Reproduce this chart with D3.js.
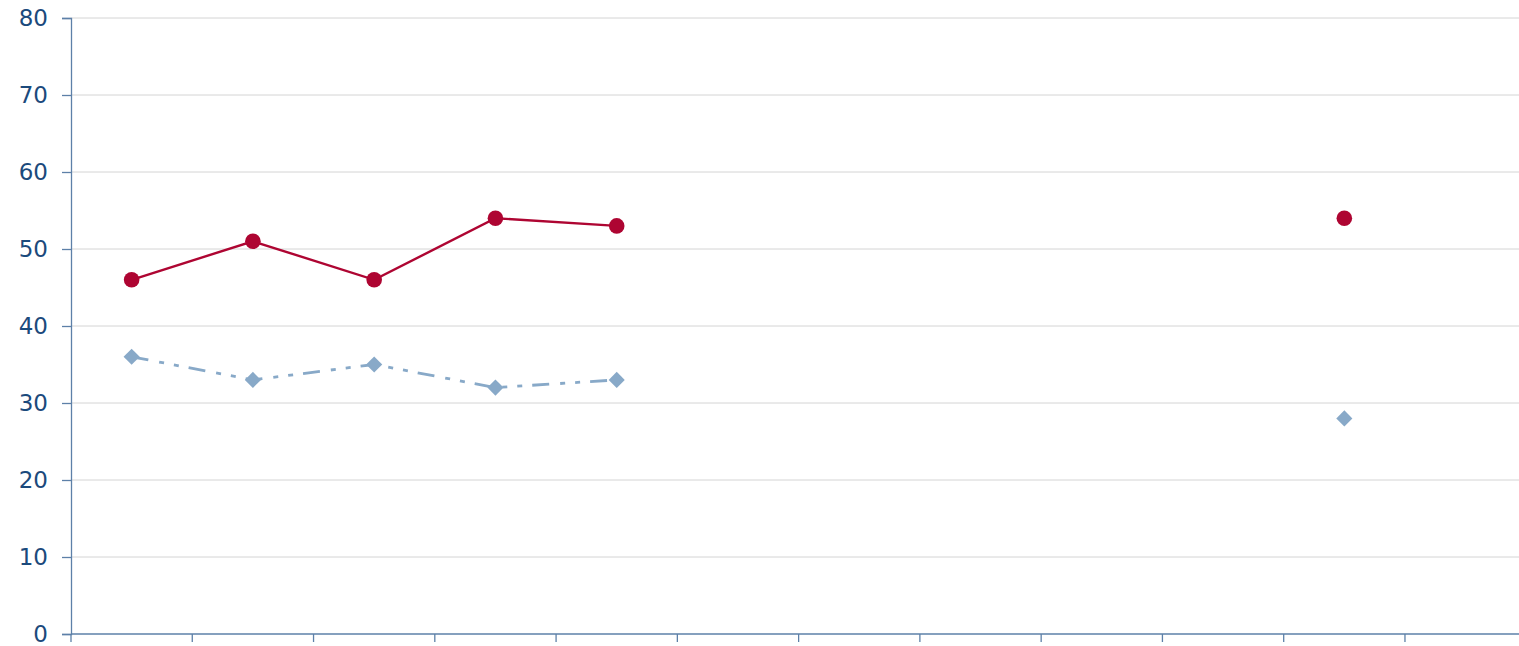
<!DOCTYPE html>
<html>
<head>
<meta charset="utf-8">
<script src="https://cdn.jsdelivr.net/npm/d3@7"></script>
<style>
  html, body { margin: 0; padding: 0; background: #fff; }
  svg { display: block; }
</style>
</head>
<body>
<div id="chart"></div>
<script>
// chart data
const categories = ["c1", "c2", "c3", "c4", "c5", "c6", "c7", "c8", "c9", "c10", "c11", "c12"];
const redValues = [46, 51, 46, 54, 53, null, null, null, null, null, 54, null];
const blueValues = [36, 33, 35, 32, 33, null, null, null, null, null, 28, null];
const yTicks = [0, 10, 20, 30, 40, 50, 60, 70, 80];

const width = 1519;
const height = 646;
const margin = { top: 18, left: 71, bottom: 12 };
const bandW = 121.27;

const svg = d3.select("#chart")
              .append("svg")
              .attr("width", width)
              .attr("height", height);

const x = d3.scaleBand()
            .domain(categories)
            .range([margin.left, margin.left + bandW * categories.length])
            .padding(0);

const y = d3.scaleLinear()
            .domain([0, 80])
            .range([height - margin.bottom, margin.top]);

const axisColor = "#5d80a8";
const labelColor = "#1b4a7c";

// horizontal gridlines
svg.append("g")
   .selectAll("line")
   .data(yTicks.filter(d => d > 0))
   .join("line")
   .attr("x1", margin.left)
   .attr("x2", width)
   .attr("y1", d => y(d))
   .attr("y2", d => y(d))
   .attr("stroke", "#d4d4d4")
   .attr("stroke-width", 1);

// y axis
const yAxis = svg.append("g")
   .attr("transform", `translate(${margin.left},0)`)
   .call(d3.axisLeft(y).tickValues(yTicks).tickSize(9).tickPadding(14));
yAxis.select(".domain").attr("stroke", axisColor).attr("stroke-width", 1.3);
yAxis.selectAll(".tick line").attr("stroke", axisColor).attr("stroke-width", 1.3);
yAxis.selectAll("text")
     .attr("fill", labelColor)
     .attr("dy", "0.34em")
     .style("font-family", "'DejaVu Sans', Verdana, sans-serif")
     .style("font-size", "23px");

// x axis: ticks at band boundaries
const xAxisG = svg.append("g");
xAxisG.append("line")
      .attr("x1", margin.left)
      .attr("x2", width)
      .attr("y1", y(0))
      .attr("y2", y(0))
      .attr("stroke", axisColor)
      .attr("stroke-width", 1.3);
xAxisG.selectAll(".xtick")
      .data(categories)
      .join("line")
      .attr("class", "xtick")
      .attr("x1", d => x(d))
      .attr("x2", d => x(d))
      .attr("y1", y(0))
      .attr("y2", y(0) + 8)
      .attr("stroke", axisColor)
      .attr("stroke-width", 1.3);

const cx = i => x(categories[i]) + x.bandwidth() / 2;

// lines
const line = d3.line()
               .defined(d => d != null)
               .x((d, i) => cx(i))
               .y(d => y(d));

svg.append("path")
   .datum(blueValues)
   .attr("fill", "none")
   .attr("stroke", "#88a9c8")
   .attr("stroke-width", 2.8)
   .attr("stroke-dasharray", "17,11,5,10,5,10")
   .attr("d", line);

svg.append("path")
   .datum(redValues)
   .attr("fill", "none")
   .attr("stroke", "#ae0532")
   .attr("stroke-width", 2.4)
   .attr("d", line);

// markers
const blueData = blueValues.map((v, i) => ({ v, i })).filter(d => d.v != null);
svg.append("g")
   .selectAll("path")
   .data(blueData)
   .join("path")
   .attr("d", d3.symbol(d3.symbolSquare, 130)())
   .attr("transform", d => `translate(${cx(d.i)},${y(d.v)}) rotate(45)`)
   .attr("fill", "#88a9c8");

const redData = redValues.map((v, i) => ({ v, i })).filter(d => d.v != null);
svg.append("g")
   .selectAll("circle")
   .data(redData)
   .join("circle")
   .attr("cx", d => cx(d.i))
   .attr("cy", d => y(d.v))
   .attr("r", 7.8)
   .attr("fill", "#ae0532");
</script>
</body>
</html>
